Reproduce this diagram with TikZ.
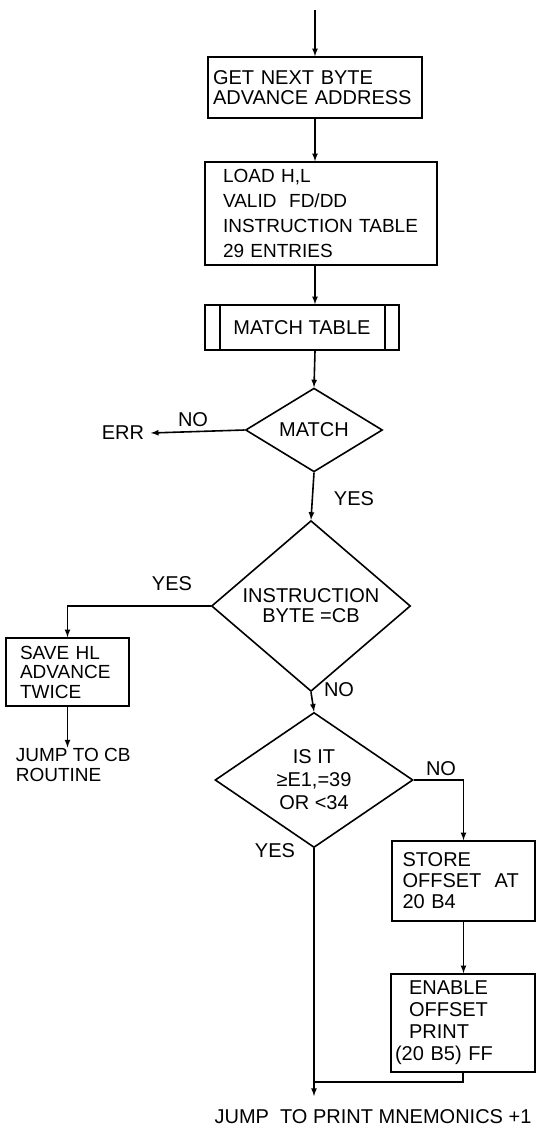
\documentclass[tikz,border=0pt]{standalone}
\usepackage{fontspec}
\setmainfont{Liberation Sans}
\usetikzlibrary{shapes.geometric}
\begin{document}
\begin{tikzpicture}
    [
    x=1pt,y=-1pt,
    line width=1.6pt,
    every node/.style={font=\fontsize{20}{20}\selectfont},
    box/.style={rectangle,draw,align=left,inner sep=0pt},
    test/.style={diamond,draw,align=center,inner sep=0pt},
    word/.style={inner sep=0pt}
    ]
    \useasboundingbox (0,0) rectangle (537,1129);
    \coordinate (start) at (315,10);
    \node (get) at (315,87.5) [box,minimum width=214,minimum height=61,text width=204] {GET NEXT BYTE\\ADVANCE ADDRESS};
    \node (load) at (321,213.5) [box,minimum width=232,minimum height=103,text width=196,font=\fontsize{19}{25}\selectfont] {LOAD H,L\\VALID\ \ FD/DD\\INSTRUCTION TABLE\\29 ENTRIES};
    \node (mt) at (302,327.5) [box,minimum width=194,minimum height=45,align=center] {MATCH TABLE};
    \draw ([xshift=16pt]mt.north west) -- ([xshift=16pt]mt.south west);
    \draw ([xshift=-15pt]mt.north east) -- ([xshift=-15pt]mt.south east);
    \node (match) at (314,430) [test,minimum width=137,minimum height=79] {MATCH};
    \node (err) at (123,433) [word,inner xsep=6pt] {ERR};
    \node (no1) at (193,420) [word] {NO};
    \node (yes1) at (354,499) [word] {YES};
    \node (instr) at (311,606) [test,minimum width=199,minimum height=119] {INSTRUCTION\\BYTE =CB};
    \node (yes2) at (172,584) [word] {YES};
    \node (save) at (67.5,672) [box,minimum width=123,minimum height=68,text width=95,font=\fontsize{19}{19.5}\selectfont] {SAVE HL\\ADVANCE\\TWICE};
    \node (cb) at (15,765) [word,anchor=west,align=left,font=\fontsize{19}{20}\selectfont] {JUMP TO CB\\ROUTINE};
    \node (no2) at (339,690) [word] {NO};
    \node (isit) at (314,780) [test,minimum width=198,minimum height=115,font=\fontsize{20}{23}\selectfont] {IS IT\\≥E1,=39\\OR <34};
    \node (no3) at (441,769) [word] {NO};
    \node (yes3) at (275,851) [word] {YES};
    \node (store) at (463.5,881) [box,minimum width=143,minimum height=80,text width=122,font=\fontsize{20}{21}\selectfont] {STORE\\OFFSET\ \ AT\\20 B4};
    \node (enable) at (463,1023) [box,minimum width=144,minimum height=98,text width=136,font=\fontsize{20}{22}\selectfont] {\hspace*{14pt}ENABLE\\\hspace*{14pt}OFFSET\\\hspace*{14pt}PRINT\\(20 B5) FF};
    \coordinate (join) at (314,1082);
    \coordinate (jmp) at (314,1096);
    \node (print) at (373,1117) [word] {JUMP\ \ TO PRINT MNEMONICS +1};
    \draw [-latex] (start) -- (get);
    \draw [-latex] (get) -- (load.north -| get);
    \draw [-latex] (load.south -| get) -- (mt.north -| get);
    \draw [-latex] (mt.south -| get) -- (match.north);
    \draw [-latex] (match.west) -- (err.east);
    \draw [-latex] (match.south) -- (instr.north);
    \draw [-latex] (instr.west) -| (save.north);
    \draw [-latex] (save.south) -- (cb.north -| save);
    \draw [-latex] (instr.south) -- (isit.north);
    \draw [-latex] (isit.east) -| (store.north);
    \draw [-latex] (store.south) -- (enable.north -| store);
    \draw (enable.south) |- (join);
    \draw [-latex] (isit.south) -- (jmp);
\end{tikzpicture}
\end{document}
